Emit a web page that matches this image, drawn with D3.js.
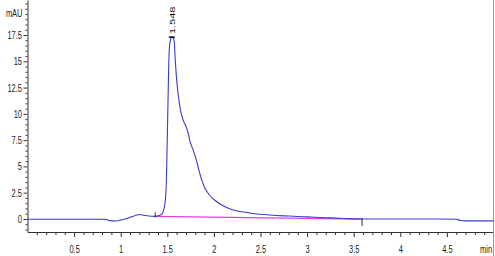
<!DOCTYPE html>
<html>
<head>
<meta charset="utf-8">
<script src="https://cdn.jsdelivr.net/npm/d3@7"></script>
<style>
    body { margin: 0; background: #fff; }
    svg { display: block; }
    .tick text, .lbl { font-family: "Liberation Sans", Arial, sans-serif; font-size: 11px; fill: #222; }
</style>
</head>
<body>
<div id="chart"></div>
<script>
// Chromatogram signal (time in min, absorbance in mAU)
const times = [0, 0.2, 0.4, 0.6, 0.8, 0.85, 0.88, 0.95, 1.0, 1.05, 1.1, 1.15, 1.2, 1.25, 1.3, 1.37,
    1.42, 1.45, 1.47, 1.485, 1.495, 1.505, 1.515, 1.525, 1.54, 1.548, 1.565, 1.575, 1.585, 1.6,
    1.62, 1.645, 1.67, 1.7, 1.72, 1.74, 1.78, 1.815, 1.84, 1.87, 1.9, 1.95, 2.0, 2.08, 2.19,
    2.3, 2.4, 2.6, 2.8, 3.0, 3.2, 3.4, 3.6, 3.8, 4.0, 4.2, 4.4, 4.6, 4.65, 4.7, 5.0];
const signal = [-0.03, -0.03, -0.03, -0.03, -0.03, -0.06, -0.16, -0.2, -0.1, 0.0, 0.15, 0.3, 0.42, 0.35, 0.28, 0.25,
    0.35, 0.6, 1.2, 2.5, 5.5, 10, 14.5, 16.6, 17.2, 17.3, 17.2, 16.8, 15.2, 13.3,
    11.6, 10.2, 9.4, 8.8, 8.3, 7.5, 6.5, 5.5, 4.6, 3.7, 3.0, 2.3, 1.85, 1.35, 0.9,
    0.68, 0.55, 0.38, 0.28, 0.2, 0.12, 0.05, 0.0, 0.0, 0.0, 0.0, 0.0, -0.02, -0.15, -0.18, -0.18];

// Integration baseline (start / end of peak)
const baseTimes = [1.37, 3.59];
const baseValues = [0.25, -0.01];

// Peak label
const peakTime = 1.548;
const peakValue = 17.3;
const peakLabel = '1.548';

// Axis ticks
const xTicks = [0.5, 1, 1.5, 2, 2.5, 3, 3.5, 4, 4.5];
const yTicks = [0, 2.5, 5, 7.5, 10, 12.5, 15, 17.5];

const width = 495, height = 256;
const squeeze = 0.68; // narrow font look

const svg = d3.select('#chart').append('svg')
    .attr('width', width)
    .attr('height', height);

const x = d3.scaleLinear().domain([0, 5]).range([27.5, 493.5]);
const y = d3.scaleLinear().domain([-1.24, 20.83]).range([232, 0]);

// minor ticks
const xMinor = d3.range(1, 50).map(i => i / 10).filter(v => !xTicks.includes(v));
const yMinor = d3.range(-2, 42).map(i => i / 2).filter(v => !yTicks.includes(v));

svg.append('g')
    .attr('transform', `translate(0,232)`)
    .call(d3.axisBottom(x).tickValues(xMinor).tickSize(3).tickFormat(''))
    .call(g => g.select('.domain').remove())
    .selectAll('line').attr('stroke', '#333');

svg.append('g')
    .attr('transform', `translate(27.5,0)`)
    .call(d3.axisLeft(y).tickValues(yMinor).tickSize(2).tickFormat(''))
    .call(g => g.select('.domain').remove())
    .selectAll('line').attr('stroke', '#333');

// major axes
const xAxis = svg.append('g')
    .attr('transform', `translate(0,232)`)
    .call(d3.axisBottom(x).tickValues(xTicks).tickSize(5).tickPadding(8).tickSizeOuter(0)
        .tickFormat(d => String(d)));
xAxis.select('.domain').attr('stroke', '#333');
xAxis.selectAll('line').attr('stroke', '#333');
xAxis.selectAll('.tick text').attr('transform', `scale(${squeeze},1)`);

const yAxis = svg.append('g')
    .attr('transform', `translate(27.5,0)`)
    .call(d3.axisLeft(y).tickValues(yTicks).tickSize(4).tickPadding(2).tickSizeOuter(0)
        .tickFormat(d => String(d)));
yAxis.select('.domain').attr('stroke', '#333');
yAxis.selectAll('line').attr('stroke', '#333');
yAxis.selectAll('.tick text')
    .attr('x', 0)
    .attr('transform', `translate(-5.5,0) scale(${squeeze},1)`);

// unit labels
svg.append('text').attr('class', 'lbl')
    .attr('transform', `translate(22.5,17) scale(${squeeze},1)`)
    .attr('text-anchor', 'end')
    .text('mAU');

svg.append('text').attr('class', 'lbl')
    .attr('transform', `translate(480,252.5) scale(${squeeze},1)`)
    .text('min');

// right frame line
svg.append('line')
    .attr('x1', 493.5).attr('x2', 493.5)
    .attr('y1', 0).attr('y2', height)
    .attr('stroke', '#999');

// integration baseline
svg.append('line')
    .attr('x1', x(baseTimes[0])).attr('y1', y(baseValues[0]))
    .attr('x2', x(baseTimes[1])).attr('y2', y(baseValues[1]))
    .attr('stroke', '#e23ee2')
    .attr('stroke-width', 1.3);

// signal trace
const points = times.map((t, i) => [t, signal[i]]);
const line = d3.line()
    .x(d => x(d[0]))
    .y(d => y(d[1]))
    .curve(d3.curveMonotoneX);

svg.append('path')
    .datum(points)
    .attr('d', line)
    .attr('fill', 'none')
    .attr('stroke', '#3b3bd0')
    .attr('stroke-width', 1.1);

// start / end markers
svg.append('line')
    .attr('x1', x(baseTimes[0])).attr('x2', x(baseTimes[0]))
    .attr('y1', y(baseValues[0]) - 4).attr('y2', y(baseValues[0]) + 1)
    .attr('stroke', '#333');
svg.append('line')
    .attr('x1', x(baseTimes[1])).attr('x2', x(baseTimes[1]))
    .attr('y1', y(baseValues[1]) - 1).attr('y2', y(baseValues[1]) + 7)
    .attr('stroke', '#333');

// peak marker + label
svg.append('line')
    .attr('x1', x(peakTime) - 3).attr('x2', x(peakTime) + 3)
    .attr('y1', y(peakValue)).attr('y2', y(peakValue))
    .attr('stroke', '#111')
    .attr('stroke-width', 1.5);

svg.append('text').attr('class', 'lbl')
    .attr('transform', `translate(${x(peakTime) + 3},${y(peakValue) - 3}) rotate(-90) scale(1,0.62)`)
    .style('fill', '#111')
    .text(peakLabel);
</script>
</body>
</html>
